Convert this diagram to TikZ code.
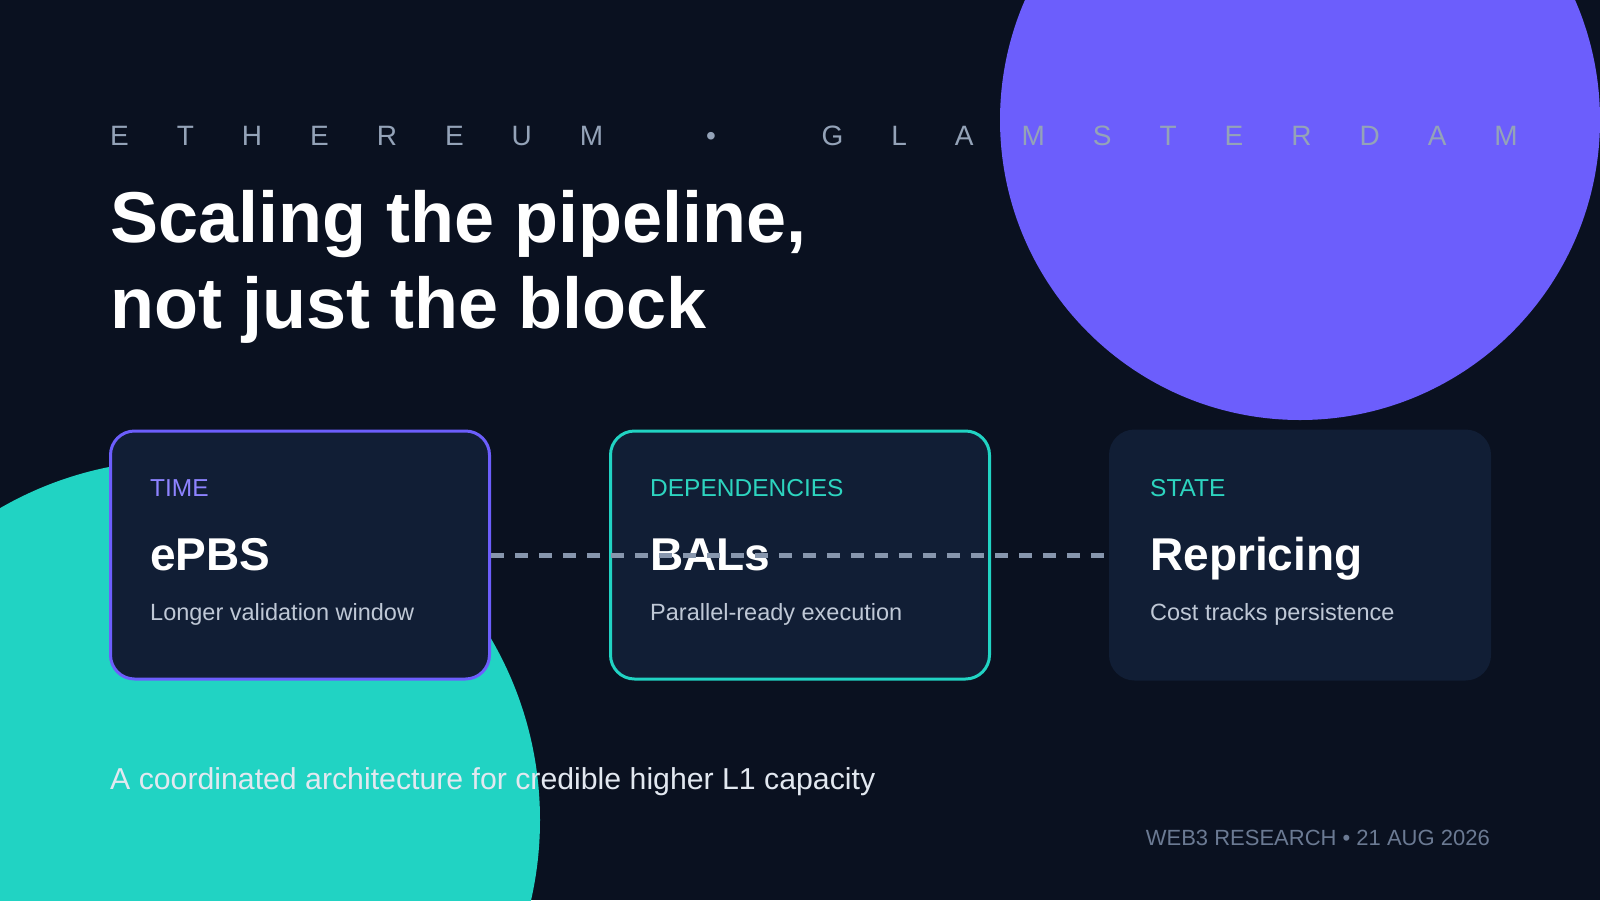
\documentclass[tikz,border=0pt]{standalone}
\usepackage{fontspec}
\setmainfont{Liberation Sans}
\newfontfamily\trackedfont[LetterSpace=171.4]{Liberation Sans}
\usetikzlibrary{positioning}
\definecolor{pagebg}{HTML}{0A1120}
\definecolor{cardbg}{HTML}{111E35}
\definecolor{violetdisc}{HTML}{6C5EFC}
\definecolor{aquadisc}{HTML}{21D3C3}
\definecolor{taglilac}{HTML}{8E83FF}
\definecolor{tagaqua}{HTML}{2DD4BF}
\definecolor{dashgray}{HTML}{8796AD}
\definecolor{blurbgray}{HTML}{BFC8D6}
\definecolor{kickergray}{HTML}{94A3B8}
\definecolor{footgray}{HTML}{6B7A93}
\definecolor{leadwhite}{HTML}{E2E8F0}
\begin{document}
\begin{tikzpicture}[x=1pt,y=-1pt,line join=round,
  card/.style={rectangle,rounded corners=24pt,fill=cardbg,line width=3pt,
    minimum width=379pt,minimum height=248pt},
  tag/.style={anchor=base west,inner sep=0pt,font=\fontsize{24.5}{29}\selectfont},
  head/.style={anchor=base west,inner sep=0pt,text=white,font=\fontsize{46}{55}\selectfont\bfseries},
  blurb/.style={anchor=base west,inner sep=0pt,text=blurbgray,font=\fontsize{23.5}{28}\selectfont},
  dashline/.style={line width=5pt,line cap=butt,dashgray,dash pattern=on 13pt off 11pt}]
  \useasboundingbox (0,0) rectangle (1600,900);
  \clip (0,0) rectangle (1600,900);
  \fill[pagebg] (0,0) rectangle (1600,900);
  \fill[violetdisc] (1300,120) circle[radius=300pt];
  \fill[aquadisc] (180,820) circle[radius=360pt];
  % heading
  \node[anchor=base west,inner sep=0pt,text=kickergray,font=\trackedfont\fontsize{28}{34}\selectfont]
    (kicker) at (110,145) {ETHEREUM\hspace{47pt} • \hspace{50pt}GLAMSTERDAM};
  \node[anchor=base west,inner sep=0pt,text=white,font=\fontsize{72}{86}\selectfont\bfseries]
    (titleone) at (110,242) {Scaling the pipeline,};
  \node[anchor=base west,inner sep=0pt,text=white,font=\fontsize{72}{86}\selectfont\bfseries]
    (titletwo) at (110,328) {not just the block};
  % cards
  \node[card,draw=violetdisc] (timecard) at (300,555) {};
  \node[card,draw=aquadisc,right=118pt of timecard] (depcard) {};
  \node[card,draw=cardbg,right=118pt of depcard] (statecard) {};
  \node[tag,text=taglilac] (timetag) at (150,496) {TIME};
  \node[head] (timehead) at (150,570) {ePBS};
  \node[blurb] (timeblurb) at (150,620) {Longer validation window};
  \node[tag,text=tagaqua] (deptag) at (650,496) {DEPENDENCIES};
  \node[head] (dephead) at (650,570) {BALs};
  \node[blurb] (depblurb) at (650,620) {Parallel-ready execution};
  \node[tag,text=tagaqua] (statetag) at (1150,496) {STATE};
  \node[head] (statehead) at (1150,570) {Repricing};
  \node[blurb] (stateblurb) at (1150,620) {Cost tracks persistence};
  \draw[dashline] (timecard.east) -- (statecard.west);
  % footer
  \node[anchor=base west,inner sep=0pt,text=leadwhite,font=\fontsize{30.25}{36}\selectfont]
    (lead) at (110,789) {A coordinated architecture for credible higher L1 capacity};
  \node[anchor=base east,inner sep=0pt,text=footgray,font=\fontsize{22}{26}\selectfont]
    (byline) at (1490,845) {WEB3 RESEARCH • 21 AUG 2026};
\end{tikzpicture}
\end{document}
